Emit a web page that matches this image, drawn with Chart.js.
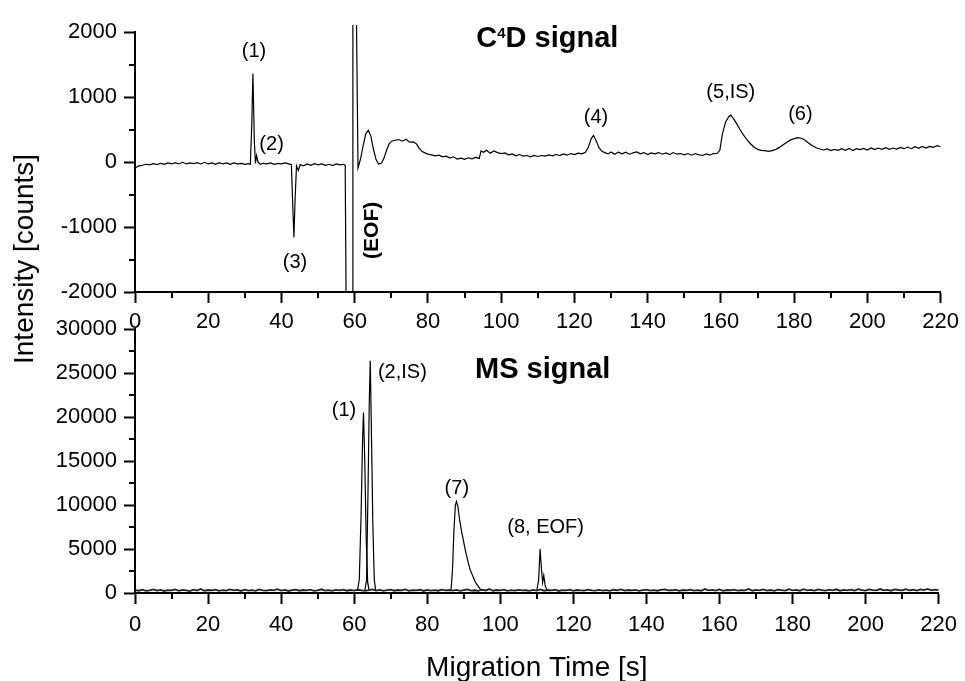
<!DOCTYPE html>
<html>
<head>
<meta charset="utf-8">
<script src="https://cdn.jsdelivr.net/npm/chart.js@4.4.1/dist/chart.umd.min.js"></script>
<style>
  html, body { margin: 0; padding: 0; background: #fff; }
  #wrap { position: relative; width: 965px; height: 681px; overflow: hidden; }
  canvas { position: absolute; left: 0; }
  #c4d { top: 0; }
  #ms { top: 300px; }
  #ylabel {
    position: absolute; left: 24px; top: 259px;
    transform: translate(-50%, -50%) rotate(-90deg);
    font: 28px "Liberation Sans", Arial, sans-serif;
    white-space: nowrap; line-height: 1; color: #000;
  }
</style>
</head>
<body>
<div id="wrap">
  <canvas id="c4d" width="965" height="345"></canvas>
  <canvas id="ms" width="965" height="381"></canvas>
  <div id="ylabel">Intensity [counts]</div>
</div>
<script>
// C4D signal (upper panel)
const c4dTime = [
  0, 0.5, 1, 1.5, 2, 3, 4, 5, 6, 7,
  8, 9, 10, 11, 12, 13, 14, 15, 16, 17,
  18, 19, 20, 21, 22, 23, 24, 25, 26, 27,
  28, 29, 30, 31, 31.5, 31.9, 32.2, 32.6, 32.9, 33.2,
  33.6, 34.2, 35, 36, 37, 38, 39, 40, 41, 42,
  42.7, 43.1, 43.4, 43.7, 44.1, 44.6, 45.1, 46, 47, 48,
  49, 50, 51, 52, 53, 54, 55, 56, 57, 57.4,
  57.7, 59.3, 59.5, 60.4, 60.9, 61.6, 62.3, 63, 63.7, 64.4,
  65.1, 65.8, 66.5, 67.3, 68, 68.7, 69.4, 70.1, 71, 72,
  73, 74, 75, 76, 76.8, 77.6, 78.4, 79.2, 80, 81,
  82, 83, 84, 85, 86, 87, 88, 89, 90, 91,
  92, 93, 94, 94.5, 95.2, 96, 97, 98, 99, 100,
  101, 102, 103, 104, 105, 106, 107, 108, 109, 110,
  111, 112, 113, 114, 115, 116, 117, 118, 119, 120,
  121, 122, 123, 123.8, 124.6, 125.2, 125.9, 126.7, 127.5, 128.3,
  129.2, 130, 131, 132, 133, 134, 135, 136, 137, 138,
  139, 140, 141, 142, 143, 144, 145, 146, 147, 148,
  149, 150, 151, 152, 153, 154, 155, 156, 157, 158,
  159, 159.7, 160.4, 161.3, 162.2, 162.7, 163.5, 164.3, 165.2, 166.1,
  167, 168, 169, 170, 171, 172, 173, 174, 175, 176,
  177, 178, 179, 180, 181, 182, 183, 184, 185, 186,
  187, 188, 189, 190, 191, 192, 193, 194, 195, 196,
  197, 198, 199, 200, 201, 202, 203, 204, 205, 206,
  207, 208, 209, 210, 211, 212, 213, 214, 215, 216,
  217, 218, 219, 220
];
const c4dSignal = [
  -100, -75, -60, -55, -50, -35, -45, -25, -40, -20,
  -35, -15, -30, -10, -30, -5, -30, -15, -25, -10,
  -30, -5, -30, -15, -35, -10, -30, -15, -35, -15,
  -30, -20, -35, -25, -35, 600, 1360, 300, -20, 100,
  0, -35, -20, -30, -15, -35, -20, -30, -15, -30,
  -40, -700, -1160, -600, -60, -130, -40, -60, -30, -50,
  -25, -45, -30, -50, -35, -55, -30, -45, -35, -50,
  -2600, -2600, 2600, 2600, -90, 50, 250, 430, 490, 400,
  200, 40, -30, -20, 60, 180, 280, 320, 335, 345,
  320, 350, 305, 310, 280, 210, 160, 140, 120, 110,
  95, 105, 80, 90, 60, 80, 45, 60, 40, 65,
  50, 70, 55, 170, 150, 180, 135, 170, 145, 130,
  140, 110, 125, 95, 115, 90, 100, 80, 100, 85,
  100, 90, 110, 95, 115, 100, 125, 105, 130, 115,
  135, 125, 150, 230, 360, 410, 330, 220, 165, 145,
  125, 155, 120, 150, 125, 150, 120, 140, 155, 125,
  145, 115, 140, 125, 145, 120, 140, 115, 145, 120,
  130, 110, 130, 105, 130, 110, 100, 125, 105, 130,
  135, 180, 430, 620, 700, 720, 660, 590, 500, 420,
  350, 285, 230, 195, 180, 175, 165, 175, 195, 225,
  265, 305, 340, 360, 375, 365, 335, 290, 250, 220,
  200, 185, 200, 175, 195, 180, 205, 180, 210, 175,
  205, 190, 210, 185, 215, 190, 215, 195, 220, 195,
  215, 200, 225, 205, 230, 205, 235, 210, 240, 215,
  240, 225, 250, 235
];

// MS signal (lower panel): noisy baseline and the separate ion traces
const msTime = [
  0, 1, 2, 3, 4, 5, 6, 7, 8, 9,
  10, 11, 12, 13, 14, 15, 16, 17, 18, 19,
  20, 21, 22, 23, 24, 25, 26, 27, 28, 29,
  30, 31, 32, 33, 34, 35, 36, 37, 38, 39,
  40, 41, 42, 43, 44, 45, 46, 47, 48, 49,
  50, 51, 52, 53, 54, 55, 56, 57, 58, 59,
  60, 61, 62, 63, 64, 65, 66, 67, 68, 69,
  70, 71, 72, 73, 74, 75, 76, 77, 78, 79,
  80, 81, 82, 83, 84, 85, 86, 87, 88, 89,
  90, 91, 92, 93, 94, 95, 96, 97, 98, 99,
  100, 101, 102, 103, 104, 105, 106, 107, 108, 109,
  110, 111, 112, 113, 114, 115, 116, 117, 118, 119,
  120, 121, 122, 123, 124, 125, 126, 127, 128, 129,
  130, 131, 132, 133, 134, 135, 136, 137, 138, 139,
  140, 141, 142, 143, 144, 145, 146, 147, 148, 149,
  150, 151, 152, 153, 154, 155, 156, 157, 158, 159,
  160, 161, 162, 163, 164, 165, 166, 167, 168, 169,
  170, 171, 172, 173, 174, 175, 176, 177, 178, 179,
  180, 181, 182, 183, 184, 185, 186, 187, 188, 189,
  190, 191, 192, 193, 194, 195, 196, 197, 198, 199,
  200, 201, 202, 203, 204, 205, 206, 207, 208, 209,
  210, 211, 212, 213, 214, 215, 216, 217, 218, 219,
  220
];
const msBaseline = [
  320, 260, 380, 240, 300, 410, 270, 350, 230, 330,
  290, 400, 250, 360, 310, 220, 380, 280, 450, 260,
  340, 300, 390, 240, 320, 270, 410, 290, 350, 230,
  370, 280, 330, 250, 400, 300, 260, 360, 310, 440,
  270, 350, 230, 320, 390, 260, 340, 290, 380, 250,
  310, 420, 270, 330, 240, 360, 300, 390, 260, 340,
  280, 370, 310, 250, 330, 400, 270, 350, 240, 320,
  380, 260, 340, 290, 410, 250, 330, 300, 370, 230,
  350, 280, 320, 260, 390, 300, 340, 270, 360, 250,
  330, 400, 280, 310, 240, 370, 290, 450, 260, 340,
  300, 380, 250, 330, 270, 360, 290, 310, 240, 350,
  280, 400, 260, 340, 300, 370, 230, 320, 290, 380,
  250, 340, 310, 270, 390, 300, 260, 350, 280, 330,
  240, 370, 300, 410, 270, 340, 290, 360, 250, 320,
  380, 280, 330, 260, 350, 420, 290, 310, 370, 240,
  340, 300, 390, 270, 320, 260, 450, 300, 350, 280,
  400, 250, 340, 310, 380, 270, 330, 290, 460, 260,
  360, 300, 410, 280, 340, 250, 390, 320, 270, 430,
  300, 360, 260, 440, 310, 350, 280, 400, 330, 270,
  380, 300, 420, 260, 350, 310, 390, 280, 440, 320,
  270, 400, 330, 290, 450, 300, 360, 260, 410, 340,
  290, 430, 310, 370, 270, 400, 320, 460, 300, 380,
  330
];
const msPeak1Time = [60.9, 61.4, 61.9, 62.3, 62.55, 62.9, 63.3, 63.7, 64.1];
const msPeak1 = [250, 1500, 9000, 17500, 20500, 15000, 6000, 1200, 250];
const msPeak2Time = [62.9, 63.4, 63.8, 64.15, 64.4, 64.7, 65.1, 65.5, 65.9];
const msPeak2 = [250, 1500, 12000, 22000, 26400, 19000, 8000, 1500, 300];
const msPeak7Time = [86.5, 86.9, 87.3, 87.7, 88.0, 88.4, 88.9, 89.4, 89.8, 90.3,
  90.8, 91.2, 91.7, 92.2, 92.6, 93.1, 93.5, 93.9, 94.4, 94.9];
const msPeak7 = [300, 2500, 7000, 10000, 10400, 9800, 8200, 7000, 6200, 5100,
  4200, 3500, 2700, 2200, 1800, 1300, 1000, 800, 500, 300];
const msPeak8Time = [110.0, 110.5, 110.9, 111.3, 111.6, 111.9, 112.3, 112.8];
const msPeak8 = [300, 1500, 5000, 2500, 1200, 2000, 800, 300];

// Tick labels
const xTicks = [0, 20, 40, 60, 80, 100, 120, 140, 160, 180, 200, 220];
const xMinor = [10, 30, 50, 70, 90, 110, 130, 150, 170, 190, 210];
const c4dTicks = [-2000, -1000, 0, 1000, 2000];
const c4dMinor = [-1500, -500, 500, 1500];
const msTicks = [0, 5000, 10000, 15000, 20000, 25000, 30000];
const msMinor = [2500, 7500, 12500, 17500, 22500, 27500];

const FONT = '"Liberation Sans", Arial, sans-serif';
Chart.defaults.font.family = FONT;
Chart.defaults.color = '#000';

const pts = (xs, ys) => xs.map((x, i) => ({x: x, y: ys[i]}));

// peak labels, placed in data coordinates
const notesPlugin = {
  id: 'notes',
  afterDatasetsDraw(chart, args, opts) {
    const {ctx, scales: {x, y}} = chart;
    ctx.save();
    ctx.fillStyle = '#000';
    ctx.textAlign = 'center';
    ctx.textBaseline = 'middle';
    opts.items.forEach(n => {
      const px = x.getPixelForValue(n.x);
      const py = y.getPixelForValue(n.y);
      ctx.font = n.bold ? 'bold 21px ' + FONT : '20px ' + FONT;
      if (n.rotate) {
        ctx.save();
        ctx.translate(px, py);
        ctx.rotate(-Math.PI / 2);
        ctx.fillText(n.text, 0, 0);
        ctx.restore();
      } else {
        ctx.fillText(n.text, px, py);
      }
    });
    // panel title, with optional superscript part
    const t = opts.title;
    let w = 0;
    t.parts.forEach(p => {
      ctx.font = 'bold ' + p.size + 'px ' + FONT;
      p.w = ctx.measureText(p.text).width;
      w += p.w;
    });
    let tx = x.getPixelForValue(t.x) - w / 2;
    const ty = y.getPixelForValue(t.y);
    ctx.textAlign = 'left';
    ctx.textBaseline = 'alphabetic';
    t.parts.forEach(p => {
      ctx.font = 'bold ' + p.size + 'px ' + FONT;
      ctx.fillText(p.text, tx, ty - (p.rise || 0));
      tx += p.w;
    });
    ctx.restore();
  }
};

// short minor ticks between the labelled ones
const minorTicksPlugin = {
  id: 'minorTicks',
  afterDraw(chart, args, opts) {
    const {ctx, chartArea, scales: {x, y}} = chart;
    ctx.save();
    ctx.strokeStyle = '#000';
    ctx.lineWidth = 2;
    ctx.beginPath();
    opts.x.forEach(v => {
      const px = Math.round(x.getPixelForValue(v));
      ctx.moveTo(px, chartArea.bottom);
      ctx.lineTo(px, chartArea.bottom + 6);
    });
    opts.y.forEach(v => {
      const py = Math.round(y.getPixelForValue(v));
      ctx.moveTo(chartArea.left, py);
      ctx.lineTo(chartArea.left - 6, py);
    });
    ctx.stroke();
    ctx.restore();
  }
};

function panelOptions(yTicks, yMinor, padTop, xHeight, xPad, withTitle, notes, title) {
  return {
    responsive: false,
    animation: false,
    events: [],
    layout: {padding: {top: padTop, right: 22, left: 0, bottom: 0}},
    plugins: {
      legend: {display: false},
      tooltip: {enabled: false},
      notes: {items: notes, title: title},
      minorTicks: {x: xMinor, y: yMinor}
    },
    scales: {
      x: {
        type: 'linear',
        min: 0,
        max: 220,
        afterBuildTicks: s => { s.ticks = xTicks.map(v => ({value: v})); },
        afterFit: s => { s.height = xHeight; },
        border: {color: '#000', width: 2},
        grid: {drawOnChartArea: false, tickLength: 11, tickWidth: 2, tickColor: '#000'},
        ticks: {font: {size: 22}, padding: xPad, maxRotation: 0, autoSkip: false, callback: v => String(v)},
        title: {
          display: withTitle,
          text: 'Migration Time [s]',
          font: {size: 28, lineHeight: 0.9},
          padding: 0
        }
      },
      y: {
        type: 'linear',
        min: yTicks[0],
        max: yTicks[yTicks.length - 1],
        afterBuildTicks: s => { s.ticks = yTicks.map(v => ({value: v})); },
        afterFit: s => { s.width = 135; },
        border: {color: '#000', width: 2},
        grid: {drawOnChartArea: false, tickLength: 11, tickWidth: 2, tickColor: '#000'},
        ticks: {font: {size: 22}, padding: 7, autoSkip: false, callback: v => String(v)}
      }
    }
  };
}

const line = {borderColor: '#000', borderWidth: 1.2, pointRadius: 0, tension: 0, fill: false};

new Chart(document.getElementById('c4d'), {
  type: 'line',
  data: {
    datasets: [
      Object.assign({label: 'C4D', data: pts(c4dTime, c4dSignal), clip: {left: 0, top: 7, right: 0, bottom: 0}}, line)
    ]
  },
  options: panelOptions(c4dTicks, c4dMinor, 32, 53, 6, false, [
    {text: '(1)', x: 32.5, y: 1700},
    {text: '(2)', x: 37.3, y: 272},
    {text: '(3)', x: 43.7, y: -1543},
    {text: '(EOF)', x: 64.8, y: -1051, bold: true, rotate: true},
    {text: '(4)', x: 125.9, y: 688},
    {text: '(5,IS)', x: 162.7, y: 1065},
    {text: '(6)', x: 181.7, y: 734}
  ], {x: 112.6, y: 1765, parts: [
    {text: 'C', size: 29},
    {text: '4', size: 15, rise: 9},
    {text: 'D signal', size: 29}
  ]}),
  plugins: [notesPlugin, minorTicksPlugin]
});

new Chart(document.getElementById('ms'), {
  type: 'line',
  data: {
    datasets: [
      Object.assign({label: 'baseline', data: pts(msTime, msBaseline)}, line, {borderWidth: 1.8, borderColor: '#222'}),
      Object.assign({label: 'm1', data: pts(msPeak1Time, msPeak1)}, line),
      Object.assign({label: 'm2', data: pts(msPeak2Time, msPeak2)}, line),
      Object.assign({label: 'm7', data: pts(msPeak7Time, msPeak7)}, line),
      Object.assign({label: 'm8', data: pts(msPeak8Time, msPeak8)}, line)
    ]
  },
  options: panelOptions(msTicks, msMinor, 29, 88, 8, true, [
    {text: '(1)', x: 57.2, y: 20725},
    {text: '(2,IS)', x: 73.2, y: 25060},
    {text: '(7)', x: 88.1, y: 11830},
    {text: '(8, EOF)', x: 112.4, y: 7437}
  ], {x: 111.6, y: 24455, parts: [
    {text: 'MS signal', size: 29}
  ]}),
  plugins: [notesPlugin, minorTicksPlugin]
});
</script>
</body>
</html>
